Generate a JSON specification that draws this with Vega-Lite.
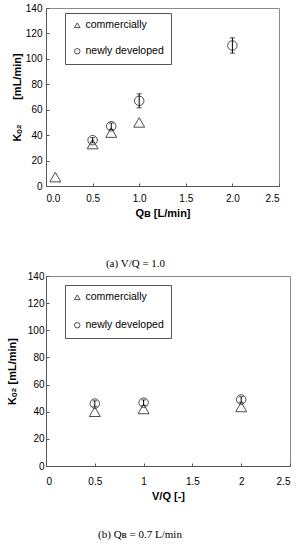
{
  "$schema": "https://vega.github.io/schema/vega-lite/v6.json",
  "background": "white",
  "padding": {"top": 2, "left": 5, "right": 0, "bottom": 0},
  "spacing": 0,
  "config": {
    "view": {"stroke": "#8a8a8a", "strokeWidth": 1},
    "axis": {
      "grid": false,
      "labelFont": "Liberation Sans",
      "labelFontSize": 10,
      "labelColor": "#000",
      "titleFont": "Liberation Sans",
      "titleFontSize": 11,
      "titleFontWeight": "bold",
      "titleColor": "#000",
      "domainColor": "#555",
      "tickColor": "#555",
      "tickSize": -3,
      "labelOverlap": false
    },
    "legend": {
      "labelFont": "Liberation Sans",
      "labelFontSize": 10.5,
      "labelColor": "#000",
      "strokeColor": "#555",
      "padding": 7,
      "rowPadding": 14,
      "symbolSize": 30,
      "symbolStrokeColor": "#000",
      "symbolStrokeWidth": 1,
      "symbolFillColor": "transparent",
      "labelOffset": 3
    },
    "title": {"font": "Liberation Serif", "fontSize": 11, "fontWeight": "normal", "color": "#000", "orient": "bottom"}
  },
  "datasets": {
    "a": [
      {"x": 0.1, "y": 7, "type": "commercially"},
      {"x": 0.5, "y": 33, "type": "commercially"},
      {"x": 0.7, "y": 42, "type": "commercially"},
      {"x": 1.0, "y": 50, "type": "commercially"},
      {"x": 0.5, "y": 36, "type": "newly developed", "lo": 34, "hi": 38},
      {"x": 0.7, "y": 47, "type": "newly developed", "lo": 44.5, "hi": 49.5},
      {"x": 1.0, "y": 67, "type": "newly developed", "lo": 61.5, "hi": 72.5},
      {"x": 2.0, "y": 110.5, "type": "newly developed", "lo": 104.5, "hi": 116.5}
    ],
    "b": [
      {"x": 0.5, "y": 40, "type": "commercially"},
      {"x": 1.0, "y": 42, "type": "commercially"},
      {"x": 2.0, "y": 43.5, "type": "commercially"},
      {"x": 0.5, "y": 46, "type": "newly developed", "lo": 44, "hi": 48},
      {"x": 1.0, "y": 46.7, "type": "newly developed", "lo": 44.7, "hi": 48.7},
      {"x": 2.0, "y": 49, "type": "newly developed", "lo": 47, "hi": 51}
    ]
  },
  "resolve": {"scale": {"shape": "independent"}, "legend": {"shape": "independent"}},
  "vconcat": [
    {
      "width": 233,
      "height": 178,
      "title": {"text": "(a) V/Q = 1.0", "dx": -27, "offset": 40},
      "data": {"name": "a"},
      "layer": [
        {
          "mark": {"type": "point", "filled": false, "stroke": "#000", "strokeWidth": 1},
          "encoding": {
            "x": {"field": "x", "type": "quantitative", "scale": {"domain": [0, 2.5], "nice": false},
              "axis": {"values": [0, 0.5, 1, 1.5, 2, 2.5], "format": ".1f", "title": "Qʙ [L/min]", "labelPadding": 10, "titlePadding": 4}},
            "y": {"field": "y", "type": "quantitative", "scale": {"domain": [0, 140], "nice": false},
              "axis": {"values": [0, 20, 40, 60, 80, 100, 120, 140], "title": "Kₒ₂\u00a0\u00a0\u00a0\u00a0\u00a0\u00a0\u00a0\u00a0[mL/min]", "labelPadding": 7, "titlePadding": 3}},
            "shape": {"field": "type", "type": "nominal",
              "scale": {"domain": ["commercially", "newly developed"], "range": ["triangle-up", "circle"]},
              "legend": {"title": null, "orient": "none", "legendX": 19, "legendY": 5, "rowPadding": 15}},
            "size": {"condition": {"test": "datum.type === 'commercially'", "value": 121}, "value": 90}
          }
        },
        {
          "mark": {"type": "errorbar", "ticks": {"size": 5, "color": "#000"}, "rule": {"color": "#000"}},
          "encoding": {
            "x": {"field": "x", "type": "quantitative",
              "axis": {"values": [0, 0.5, 1, 1.5, 2, 2.5], "format": ".1f", "title": "Qʙ [L/min]", "labelPadding": 10, "titlePadding": 4}},
            "y": {"field": "lo", "type": "quantitative",
              "axis": {"values": [0, 20, 40, 60, 80, 100, 120, 140], "title": "Kₒ₂\u00a0\u00a0\u00a0\u00a0\u00a0\u00a0\u00a0\u00a0[mL/min]", "labelPadding": 7, "titlePadding": 3}},
            "y2": {"field": "hi"}
          }
        }
      ]
    },
    {
      "width": 244,
      "height": 190,
      "title": {"text": "(b) Qʙ = 0.7 L/min", "dx": -28, "offset": 28},
      "data": {"name": "b"},
      "layer": [
        {
          "mark": {"type": "point", "filled": false, "stroke": "#000", "strokeWidth": 1},
          "encoding": {
            "x": {"field": "x", "type": "quantitative", "scale": {"domain": [0, 2.5], "nice": false},
              "axis": {"values": [0, 0.5, 1, 1.5, 2, 2.5], "format": "~g", "title": "V/Q [-]", "labelPadding": 13, "titlePadding": 4}},
            "y": {"field": "y", "type": "quantitative", "scale": {"domain": [0, 140], "nice": false},
              "axis": {"values": [0, 20, 40, 60, 80, 100, 120, 140], "title": "Kₒ₂ [mL/min]", "labelPadding": 5, "titlePadding": 10}},
            "shape": {"field": "type", "type": "nominal",
              "scale": {"domain": ["commercially", "newly developed"], "range": ["triangle-up", "circle"]},
              "legend": {"title": null, "orient": "none", "legendX": 19, "legendY": 9, "rowPadding": 17}},
            "size": {"condition": {"test": "datum.type === 'commercially'", "value": 121}, "value": 90}
          }
        },
        {
          "mark": {"type": "errorbar", "ticks": {"size": 5, "color": "#000"}, "rule": {"color": "#000"}},
          "encoding": {
            "x": {"field": "x", "type": "quantitative",
              "axis": {"values": [0, 0.5, 1, 1.5, 2, 2.5], "format": "~g", "title": "V/Q [-]", "labelPadding": 13, "titlePadding": 4}},
            "y": {"field": "lo", "type": "quantitative",
              "axis": {"values": [0, 20, 40, 60, 80, 100, 120, 140], "title": "Kₒ₂ [mL/min]", "labelPadding": 5, "titlePadding": 10}},
            "y2": {"field": "hi"}
          }
        }
      ]
    }
  ]
}
